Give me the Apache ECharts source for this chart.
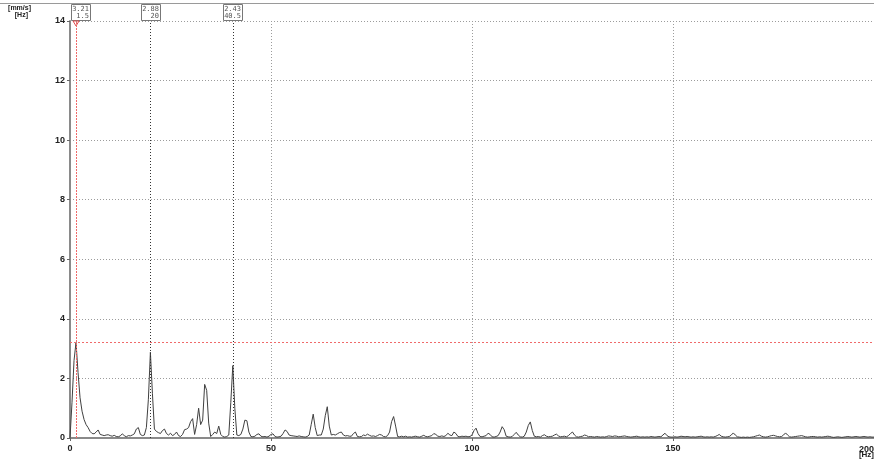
<!DOCTYPE html>
<html>
<head>
<meta charset="utf-8">
<script src="https://cdn.jsdelivr.net/npm/echarts@6/dist/echarts.min.js"></script>
<style>
html,body{margin:0;padding:0;background:#fff;}
#c{width:874px;height:462px;}
</style>
</head>
<body>
<div id="c"></div>
<script>
// Frequency resolution of the spectrum (Hz per sample)
const freqStep = 0.5;
// Amplitude [mm/s], one value per 0.5 Hz from 0 to 200 Hz
const amplitude = [
  0, 1.2, 2.6, 3.21, 2.2, 1.35, 0.9, 0.62, 0.45, 0.35, 0.22, 0.15, 0.14, 0.2, 0.27, 0.12, 0.1, 0.08, 0.1, 0.11,
  0.08, 0.06, 0.09, 0.05, 0.04, 0.07, 0.14, 0.08, 0.04, 0.08, 0.07, 0.1, 0.14, 0.3, 0.35, 0.12, 0.08, 0.1, 0.35, 1.3,
  2.88, 1.5, 0.3, 0.22, 0.18, 0.15, 0.25, 0.3, 0.15, 0.1, 0.16, 0.08, 0.12, 0.2, 0.08, 0.05, 0.12, 0.28, 0.3, 0.35,
  0.55, 0.65, 0.12, 0.45, 1.0, 0.45, 0.6, 1.8, 1.6, 0.5, 0.05, 0.12, 0.2, 0.15, 0.4, 0.12, 0.05, 0.03, 0.05, 0.1,
  1.2, 2.43, 1.0, 0.1, 0.08, 0.12, 0.3, 0.6, 0.58, 0.2, 0.05, 0.04, 0.06, 0.12, 0.14, 0.06, 0.04, 0.05, 0.03, 0.06,
  0.12, 0.14, 0.05, 0.03, 0.04, 0.06, 0.15, 0.27, 0.22, 0.1, 0.08, 0.07, 0.06, 0.05, 0.07, 0.05, 0.04, 0.03, 0.05, 0.1,
  0.45, 0.8, 0.35, 0.08, 0.1, 0.1, 0.3, 0.75, 1.05, 0.4, 0.1, 0.12, 0.1, 0.14, 0.18, 0.2, 0.1, 0.07, 0.08, 0.06,
  0.06, 0.15, 0.2, 0.05, 0.04, 0.05, 0.1, 0.08, 0.13, 0.09, 0.06, 0.07, 0.05, 0.08, 0.12, 0.1, 0.05, 0.04, 0.08, 0.2,
  0.55, 0.72, 0.4, 0.05, 0.04, 0.06, 0.04, 0.06, 0.03, 0.04, 0.03, 0.05, 0.06, 0.04, 0.03, 0.06, 0.09, 0.05, 0.04, 0.06,
  0.08, 0.15, 0.12, 0.06, 0.05, 0.07, 0.05, 0.08, 0.16, 0.1, 0.08, 0.2, 0.15, 0.05, 0.04, 0.06, 0.05, 0.06, 0.04, 0.05,
  0.1, 0.25, 0.33, 0.15, 0.05, 0.04, 0.06, 0.08, 0.16, 0.12, 0.04, 0.03, 0.05, 0.08, 0.2, 0.38, 0.28, 0.06, 0.04, 0.03,
  0.05, 0.12, 0.19, 0.1, 0.04, 0.03, 0.06, 0.2, 0.42, 0.54, 0.25, 0.06, 0.04, 0.05, 0.03, 0.08, 0.11, 0.06, 0.04, 0.05,
  0.06, 0.1, 0.13, 0.07, 0.04, 0.05, 0.06, 0.04, 0.08, 0.15, 0.2, 0.1, 0.04, 0.03, 0.05, 0.06, 0.1, 0.08, 0.04, 0.05,
  0.04, 0.03, 0.05, 0.04, 0.03, 0.04, 0.03, 0.05, 0.07, 0.06, 0.05, 0.07, 0.06, 0.04, 0.05, 0.06, 0.07, 0.05, 0.04, 0.03,
  0.04, 0.05, 0.06, 0.04, 0.03, 0.04, 0.03, 0.04, 0.03, 0.05, 0.04, 0.03, 0.04, 0.05, 0.04, 0.1, 0.16, 0.08, 0.04, 0.03,
  0.03, 0.04, 0.03, 0.04, 0.06, 0.05, 0.04, 0.05, 0.04, 0.03, 0.04, 0.03, 0.04, 0.05, 0.06, 0.04, 0.03, 0.04, 0.03, 0.04,
  0.03, 0.05, 0.08, 0.12, 0.06, 0.04, 0.03, 0.04, 0.05, 0.1, 0.17, 0.1, 0.04, 0.03, 0.02, 0.03, 0.02, 0.03, 0.02, 0.03,
  0.04, 0.06, 0.08, 0.1, 0.06, 0.04, 0.03, 0.04, 0.06, 0.08, 0.09, 0.07, 0.05, 0.04, 0.05, 0.1, 0.17, 0.1, 0.04, 0.03,
  0.04, 0.05, 0.06, 0.07, 0.08, 0.06, 0.04, 0.03, 0.04, 0.05, 0.05, 0.04, 0.03, 0.04, 0.03, 0.04, 0.05, 0.06, 0.05, 0.03,
  0.02, 0.03, 0.04, 0.03, 0.02, 0.03, 0.04, 0.05, 0.04, 0.03, 0.04, 0.05, 0.04, 0.03, 0.04, 0.05, 0.04, 0.03, 0.04, 0.03,
  0.03
];
// Cursors: frequency [Hz] and amplitude [mm/s]
const cursorFreq = [1.5, 20, 40.5];
const cursorAmp = [3.21, 2.88, 2.43];
const cursorFreqText = ['1.5', '20', '40.5'];
const cursorAmpText = ['3.21', '2.88', '2.43'];
const xTicks = [0, 50, 100, 150, 200];
const yTicks = [0, 2, 4, 6, 8, 10, 12, 14];
const unitY = '[mm/s]';
const unitX = '[Hz]';

const seriesData = amplitude.map((a, i) => [i * freqStep, a]);

const chart = echarts.init(document.getElementById('c'), null, {renderer: 'canvas'});
const labelFont = {fontFamily: 'Liberation Sans, Arial, sans-serif', fontWeight: 'bold', fontSize: 9, color: '#222'};

chart.setOption({
  animation: false,
  backgroundColor: '#ffffff',
  grid: {left: 70, right: 0, top: 21, bottom: 24},
  xAxis: {
    type: 'value', min: xTicks[0], max: xTicks[xTicks.length - 1], interval: 50,
    axisLine: {show: true, lineStyle: {color: '#8a8a8a', width: 2}},
    axisTick: {show: true, length: 3, lineStyle: {color: '#666'}},
    axisLabel: Object.assign({margin: 6, showMaxLabel: false}, labelFont),
    splitLine: {show: true, lineStyle: {color: '#9c9c9c', type: [1, 2], width: 1}}
  },
  yAxis: {
    type: 'value', min: yTicks[0], max: yTicks[yTicks.length - 1], interval: 2,
    axisLine: {show: true, lineStyle: {color: '#8a8a8a', width: 2}},
    axisTick: {show: true, length: 3, lineStyle: {color: '#666'}},
    axisLabel: Object.assign({margin: 5}, labelFont),
    splitLine: {show: true, lineStyle: {color: '#9c9c9c', type: [1, 2], width: 1}}
  },
  series: [{
    type: 'line',
    data: seriesData,
    showSymbol: false,
    lineStyle: {color: '#404040', width: 1},
    z: 3,
    markLine: {
      silent: true,
      symbol: ['none', 'none'],
      label: {show: false},
      animation: false,
      data: [
        {xAxis: cursorFreq[1], lineStyle: {color: '#333', type: [1, 2], width: 1}},
        {xAxis: cursorFreq[2], lineStyle: {color: '#333', type: [1, 2], width: 1}},
        {xAxis: cursorFreq[0], lineStyle: {color: '#f06a6a', type: [2, 1], width: 1}},
        {yAxis: cursorAmp[0], lineStyle: {color: '#f06a6a', type: [2, 2], width: 1}}
      ]
    }
  }]
});

// Annotations placed through the chart's own scales
const g = [];
g.push({type: 'line', shape: {x1: 0, y1: 3.5, x2: 874, y2: 3.5}, style: {stroke: '#9a9a9a', lineWidth: 1}, silent: true});
g.push({type: 'text', x: 31, y: 5, style: {text: unitY, font: 'bold 7px Liberation Sans, Arial, sans-serif', fill: '#222', align: 'right', verticalAlign: 'top'}});
g.push({type: 'text', x: 28, y: 12, style: {text: unitX, font: 'bold 7px Liberation Sans, Arial, sans-serif', fill: '#222', align: 'right', verticalAlign: 'top'}});
const yTop = chart.convertToPixel({gridIndex: 0}, [0, yTicks[yTicks.length - 1]])[1];
const x0 = chart.convertToPixel({gridIndex: 0}, [0, 0])[0];
for (let i = 0; i < cursorFreq.length; i++) {
  const cx = chart.convertToPixel({gridIndex: 0}, [cursorFreq[i], 0])[0];
  const w = 19, h = 16;
  let left = Math.round(cx - w / 2);
  if (left < x0 + 1) left = x0 + 1;
  g.push({type: 'rect', shape: {x: left + 0.5, y: 4.5, width: w, height: h},
    style: {fill: '#fff', stroke: '#777', lineWidth: 1}, silent: true});
  g.push({type: 'text', x: left + w - 1, y: 6, style: {text: cursorAmpText[i], font: '7px DejaVu Sans Mono, monospace', fill: '#555', align: 'right', verticalAlign: 'top'}});
  g.push({type: 'text', x: left + w - 1, y: 13, style: {text: cursorFreqText[i], font: '7px DejaVu Sans Mono, monospace', fill: '#555', align: 'right', verticalAlign: 'top'}});
}
// red cursor marker at top
const rcx = chart.convertToPixel({gridIndex: 0}, [cursorFreq[0], 0])[0];
g.push({type: 'polyline', shape: {points: [[rcx - 3, yTop], [rcx + 3, yTop], [rcx, yTop + 5], [rcx - 3, yTop]]}, style: {stroke: '#e05050', fill: 'none', lineWidth: 1}, silent: true});
// max x label and unit at the right edge
const xMaxPx = chart.convertToPixel({gridIndex: 0}, [xTicks[xTicks.length - 1], 0]);
g.push({type: 'text', x: xMaxPx[0], y: xMaxPx[1] + 7, style: {text: String(xTicks[xTicks.length - 1]), font: 'bold 9px Liberation Sans, Arial, sans-serif', fill: '#222', align: 'right', verticalAlign: 'top'}});
g.push({type: 'text', x: xMaxPx[0], y: xMaxPx[1] + 13, style: {text: unitX, font: 'bold 8px Liberation Sans, Arial, sans-serif', fill: '#222', align: 'right', verticalAlign: 'top'}});
chart.setOption({graphic: g});
</script>
</body>
</html>
